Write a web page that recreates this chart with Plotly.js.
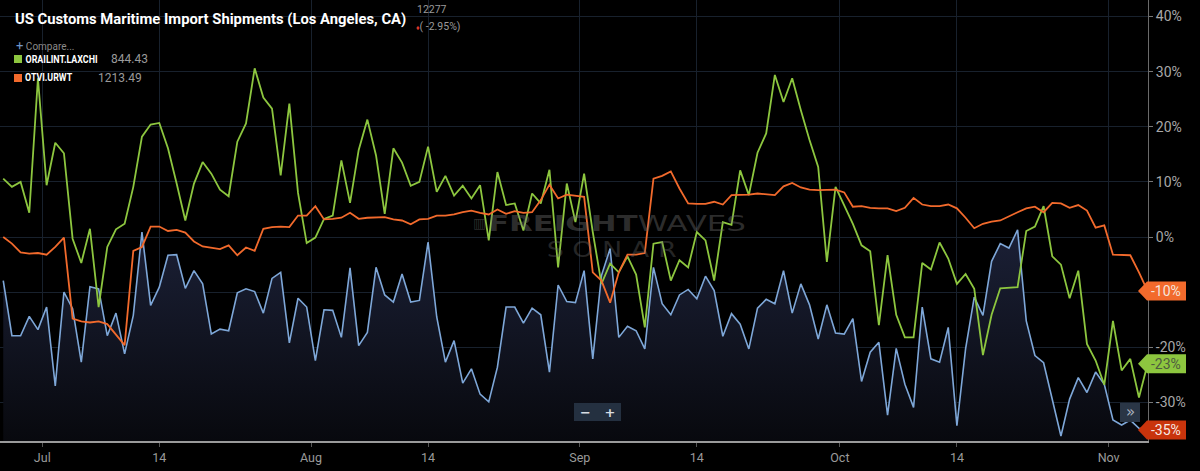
<!DOCTYPE html>
<html>
<head>
<meta charset="utf-8">
<script src="https://cdn.plot.ly/plotly-3.0.1.min.js"></script>
<style>
  html, body { margin: 0; padding: 0; background: #000; }
  #chart { width: 1200px; height: 471px; }
</style>
</head>
<body>
<div id="chart"></div>
<script>
// ---- data (percent change), one value per day starting 2023-06-26 ----
const startDate = '2023-06-26';
const pointCount = 133;

const customsLA = [ // US Customs Maritime Import Shipments (Los Angeles, CA)
  -7.9, -17.9, -17.9, -14.4, -16.8, -12.7, -27.0, -10.0, -13.0, -22.7, -9.0, -9.4, -17.9, -13.8, -21.2, -14.2, 0.9, -12.4, -9.1, -3.3, -3.2, -9.3, -6.1, -8.5, -17.6, -16.7, -17.0, -10.1, -9.4, -9.9, -13.8, -7.5, -6.4, -19.2, -11.1,
  -12.7, -22.4, -13.2, -13.3, -18.2, -5.6, -19.7, -17.3, -5.5, -10.5, -11.8, -6.7, -11.8, -11.5, -0.9, -14.5, -22.7, -18.8, -26.5, -23.9, -28.5, -29.9, -23.6, -12.7, -12.7, -15.6, -12.9, -14.1, -24.5, -8.7, -11.7, -11.9, -6.1,
  -22.1, -7.0, -2.1, -18.2, -16.2, -17.0, -20.3, -5.5, -12.1, -14.1, -10.5, -9.5, -11.2, -7.1, -9.7, -18.0, -13.9, -15.8, -20.3, -12.9, -11.3, -12.1, -6.1, -13.8, -8.5, -12.3, -18.5, -12.3, -17.4, -17.6, -14.8, -26.2, -20.9, -19.1,
  -32.3, -20.2, -26.7, -30.9, -12.7, -22.1, -22.7, -16.4, -34.2, -20.3, -10.9, -14.2, -4.4, -1.2, -2.0, 1.3, -15.2, -21.5, -22.8, -29.4, -36.1, -29.4, -25.5, -28.2, -24.5, -26.7, -33.2, -34.1, -33.2, -34.7, -35.0
];

const orailLaxChi = [ // ORAILINT.LAXCHI
  10.6, 9.1, 10.0, 4.4, 28.8, 9.4, 17.1, 15.2, -0.3, -4.7, 1.5, -12.7, -1.8, 1.4, 2.4, 9.1, 18.2, 20.4, 20.7, 16.1, 9.7, 3.0, 9.7, 13.6, 11.5, 8.6, 7.4, 17.3, 20.6, 30.6, 25.3, 23.3, 11.2, 24.2, 8.0,
  -1.1, -0.1, 3.3, 3.9, 13.9, 6.2, 15.8, 21.3, 14.8, 4.2, 16.1, 13.5, 9.3, 10.0, 16.4, 8.2, 11.1, 7.5, 9.3, 7.0, 9.4, -0.6, 11.8, 5.8, 6.1, 1.2, 7.9, 6.1, 12.2, -5.5, 9.7, 2.7, 11.5,
  0.9, -8.5, -4.8, -6.4, -3.5, -6.8, -16.4, -1.2, -0.9, -7.9, -4.2, -5.5, 0.9, -0.6, -7.9, 2.7, 2.2, 12.1, 7.6, 15.3, 18.8, 29.4, 24.5, 28.8, 23.0, 17.6, 12.7, -4.5, 9.1, 5.8, 2.4, -1.5, -2.6, -16.0,
  -3.3, -14.1, -18.2, -18.2, -4.7, -5.9, -1.0, -3.9, -8.5, -6.7, -9.4, -21.4, -14.1, -9.3, -9.2, -9.1, 1.1, 1.9, 5.6, -3.5, -5.0, -11.1, -6.1, -19.4, -22.4, -26.8, -15.2, -24.2, -22.1, -29.1, -23.0
];

const otviUrwt = [ // OTVI.URWT
  0.0, -1.2, -2.8, -3.0, -2.9, -3.2, -1.8, -0.1, -14.8, -15.3, -15.5, -15.3, -15.8, -17.6, -19.6, -2.5, -1.8, 1.9, 1.9, 1.1, 1.3, 0.8, -0.8, -1.7, -1.9, -2.2, -1.5, -3.3, -1.9, -2.5, 1.5, 1.8, 1.9, 1.8, 3.9,
  3.9, 5.6, 3.2, 3.3, 3.5, 4.4, 3.3, 3.5, 3.6, 3.6, 3.2, 3.0, 2.3, 3.2, 3.3, 3.9, 3.9, 4.1, 4.5, 4.8, 4.4, 4.1, 5.0, 4.2, 4.7, 4.4, 4.5, 6.7, 9.5, 7.0, 7.7, 7.5, 7.3,
  -6.4, -7.9, -11.9, -6.4, -3.2, -3.2, -2.9, 10.6, 11.1, 11.9, 8.8, 6.1, 6.0, 6.0, 6.4, 5.9, 7.6, 7.6, 7.7, 7.9, 7.7, 7.6, 9.2, 9.8, 9.0, 8.6, 8.5, 8.5, 8.6, 8.1, 5.5, 5.6, 5.3, 5.2,
  5.2, 4.7, 5.3, 7.1, 5.9, 5.6, 5.6, 5.9, 5.2, 3.5, 1.6, 2.4, 2.8, 3.0, 3.8, 4.5, 5.2, 5.5, 4.5, 6.2, 6.1, 5.3, 5.8, 4.8, 1.7, 2.1, -3.2, -3.3, -3.3, -6.4, -9.8
];

const xTickVals = ['2023-06-30 12:00', '2023-07-14', '2023-07-31 12:00', '2023-08-14', '2023-08-31 12:00', '2023-09-14', '2023-09-30 12:00', '2023-10-14', '2023-10-31 12:00'];
const xTickText = ['Jul', '14', 'Aug', '14', 'Sep', '14', 'Oct', '14', 'Nov'];
const yTickVals = [-30, -20, -10, 0, 10, 20, 30, 40];

const titleText = 'US Customs Maritime Import Shipments (Los Angeles, CA)';
const headValue = '12277';
const headChange = '( -2.95%)';
const legendNames = ['ORAILINT.LAXCHI', 'OTVI.URWT'];
const legendValues = ['844.43', '1213.49'];

// ---- build ----
const dates = [];
{
  const d0 = new Date(startDate + 'T00:00:00Z');
  for (let i = 0; i < pointCount; i++) {
    const d = new Date(d0.getTime() + i * 86400000);
    dates.push(d.toISOString().slice(0, 10));
  }
}
const yRange = [-37, 43];
const xRange = ['2023-06-25 15:00', '2023-11-05 01:00'];

const GREEN = '#8dc63f', ORANGE = '#f26a2c', BLUE = '#7ea7d8', RED = '#c9340c';
const FONT = 'Roboto, sans-serif';

const lastVals = [otviUrwt, orailLaxChi, customsLA].map(s => Math.round(s[s.length - 1]));
// tick labels hidden where a value tag sits on top of them
const yTickText = yTickVals.map(v => lastVals.includes(v) ? '' : v + '%');

const floor = dates.map(() => yRange[0]);

const traces = [
  { x: dates, y: floor, type: 'scatter', mode: 'lines', line: { width: 0, color: 'rgba(0,0,0,0)' }, hoverinfo: 'skip', showlegend: false },
  { x: dates, y: customsLA, type: 'scatter', mode: 'lines', fill: 'tonexty',
    fillcolor: 'rgba(24,28,46,0.8)',
    fillgradient: { type: 'vertical', colorscale: [[0, 'rgba(8,9,14,1)'], [1, 'rgba(27,32,54,1)']] },
    line: { color: BLUE, width: 1.6 }, name: titleText, showlegend: false },
  { x: dates, y: orailLaxChi, type: 'scatter', mode: 'lines', line: { color: GREEN, width: 1.8 }, name: legendNames[0], showlegend: false },
  { x: dates, y: otviUrwt, type: 'scatter', mode: 'lines', line: { color: ORANGE, width: 1.8 }, name: legendNames[1], showlegend: false }
];

const W = 1148, H = 441; // plot area in px
const px = v => v / W;
const py = v => 1 - v / H;

// texts that get squeezed to a target pixel width after drawing
const squeeze = [];

const annotations = [
  { xref: 'paper', yref: 'paper', x: px(13), y: py(19), xanchor: 'left', yanchor: 'middle', showarrow: false,
    text: '<b>' + titleText + '</b>', font: { family: FONT, size: 14.8, color: '#ffffff' } },
  { xref: 'paper', yref: 'paper', x: px(415), y: py(9.5), xanchor: 'left', yanchor: 'middle', showarrow: false,
    text: headValue, font: { family: FONT, size: 10.5, color: '#9a9a9a' } },
  { xref: 'paper', yref: 'paper', x: px(414), y: py(26.5), xanchor: 'left', yanchor: 'middle', showarrow: false,
    text: '<span style="color:#e03a2a;font-size:7px">♦</span>' + headChange, font: { family: FONT, size: 10.5, color: '#9a9a9a' } },
  { xref: 'paper', yref: 'paper', x: px(14), y: py(45), xanchor: 'left', yanchor: 'middle', showarrow: false,
    text: '<span style="color:#6f95c8;font-size:13px">+</span> Compare...', font: { family: FONT, size: 10, color: '#8a8a8a' } },
  { xref: 'paper', yref: 'paper', x: px(61), y: py(59), xanchor: 'center', yanchor: 'middle', showarrow: false,
    text: '<b>' + legendNames[0] + '</b>', font: { family: FONT, size: 10, color: '#ffffff' } },
  { xref: 'paper', yref: 'paper', x: px(109), y: py(59), xanchor: 'left', yanchor: 'middle', showarrow: false,
    text: legendValues[0], font: { family: FONT, size: 12, color: '#9a9a9a' } },
  { xref: 'paper', yref: 'paper', x: px(48.5), y: py(78), xanchor: 'center', yanchor: 'middle', showarrow: false,
    text: '<b>' + legendNames[1] + '</b>', font: { family: FONT, size: 10, color: '#ffffff' } },
  { xref: 'paper', yref: 'paper', x: px(96), y: py(78), xanchor: 'left', yanchor: 'middle', showarrow: false,
    text: legendValues[1], font: { family: FONT, size: 12, color: '#9a9a9a' } },
  // watermark
  { xref: 'paper', yref: 'paper', x: px(617), y: py(223), xanchor: 'center', yanchor: 'middle', showarrow: false,
    text: '<b>FREIGHT</b>WAVES', font: { family: 'DejaVu Sans', size: 22, color: 'rgba(110,110,110,0.42)' } },
  { xref: 'paper', yref: 'paper', x: px(479), y: py(223), xanchor: 'center', yanchor: 'middle', showarrow: false,
    text: '▥', font: { family: 'DejaVu Sans', size: 14, color: 'rgba(110,110,110,0.42)' } },
  { xref: 'paper', yref: 'paper', x: px(612), y: py(250), xanchor: 'center', yanchor: 'middle', showarrow: false,
    text: 'S O N A R', font: { family: 'DejaVu Sans', size: 21, color: 'rgba(100,100,100,0.38)' } },
  // zoom controls
  { xref: 'paper', yref: 'paper', x: px(597), y: py(412), xanchor: 'center', yanchor: 'middle', showarrow: false,
    text: '<b>−   +</b>', font: { family: 'DejaVu Sans', size: 13, color: '#d8dde3' } },
  { xref: 'paper', yref: 'paper', x: px(1130), y: py(412), xanchor: 'center', yanchor: 'middle', showarrow: false,
    text: '»', font: { family: 'DejaVu Sans', size: 15, color: '#aab4c0' } }
];
squeeze.push({ text: legendNames[0], width: 72 });
squeeze.push({ text: legendNames[1], width: 47 });
squeeze.push({ text: 'FREIGHTWAVES', width: 258 });
squeeze.push({ text: 'S O N A R', width: 130 });

const shapes = [
  { type: 'rect', xref: 'paper', yref: 'paper', x0: px(14), x1: px(22), y0: py(55), y1: py(63), fillcolor: GREEN, line: { width: 0 } },
  { type: 'rect', xref: 'paper', yref: 'paper', x0: px(14), x1: px(22), y0: py(74), y1: py(82), fillcolor: ORANGE, line: { width: 0 } },
  { type: 'rect', xref: 'paper', yref: 'paper', x0: px(574), x1: px(621), y0: py(403), y1: py(421), fillcolor: '#243040', line: { width: 0 } },
  { type: 'rect', xref: 'paper', yref: 'paper', x0: px(1120), x1: px(1140), y0: py(403), y1: py(422), fillcolor: '#2a3646', line: { width: 0 } }
];

// value tags on the right axis
function addTag(series, color, textColor) {
  const v = series[series.length - 1];
  const hh = 9.5 / (H / (yRange[1] - yRange[0]));
  const tip = px(1138), body = px(1147), right = px(1186);
  shapes.push({ type: 'path', xref: 'paper', yref: 'y',
    path: `M ${tip},${v} L ${body},${v + hh} L ${right},${v + hh} L ${right},${v - hh} L ${body},${v - hh} Z`,
    fillcolor: color, line: { width: 0 } });
  annotations.push({ xref: 'paper', yref: 'y', x: px(1166), y: v, xanchor: 'center', yanchor: 'middle', showarrow: false,
    text: Math.round(v) + '%', font: { family: FONT, size: 14, color: textColor } });
}
addTag(otviUrwt, ORANGE, '#f4e6de');
addTag(orailLaxChi, GREEN, '#4d5a40');
addTag(customsLA, RED, '#f7e9e4');

const layout = {
  width: 1200, height: 471,
  paper_bgcolor: '#000000', plot_bgcolor: '#000000',
  margin: { l: 0, r: 52, t: 0, b: 30, pad: 0 },
  showlegend: false,
  xaxis: {
    type: 'date', range: xRange,
    tickvals: xTickVals, ticktext: xTickText,
    ticks: 'outside', ticklen: 4, tickcolor: '#555', tickwidth: 1,
    showgrid: true, gridcolor: '#18212d', gridwidth: 1,
    showline: true, linecolor: '#9a9a9a', linewidth: 1.5,
    zeroline: false,
    tickfont: { family: FONT, size: 12.5, color: '#9a9a9a' }
  },
  yaxis: {
    range: yRange, side: 'right',
    tickvals: yTickVals, ticktext: yTickText,
    ticks: 'outside', ticklen: 4, tickcolor: '#777',
    showgrid: true, gridcolor: '#18212d', gridwidth: 1,
    showline: true, linecolor: '#6a6a6a', linewidth: 1,
    zeroline: false,
    tickfont: { family: FONT, size: 14, color: '#a8a8a8' }
  },
  annotations: annotations,
  shapes: shapes
};

Plotly.newPlot('chart', traces, layout, { displayModeBar: false, staticPlot: true }).then(gd => {
  gd.querySelectorAll('text.annotation-text').forEach(t => {
    const s = squeeze.find(q => q.text === t.textContent);
    if (s) {
      t.setAttribute('textLength', s.width);
      t.setAttribute('lengthAdjust', 'spacingAndGlyphs');
    }
  });
});
</script>
</body>
</html>
